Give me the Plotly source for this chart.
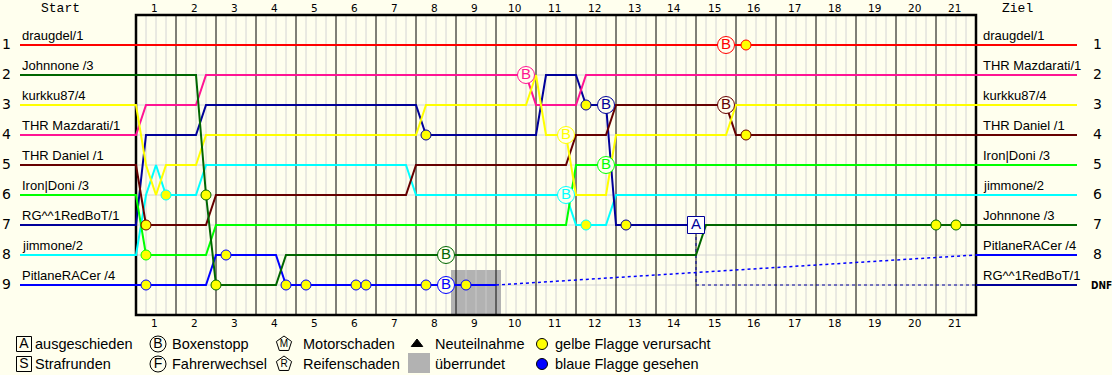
import plotly.graph_objects as go

# ---------------- data ----------------
n_laps = 21
quarters_per_lap = 4
lap_labels = [str(i) for i in range(1, n_laps + 1)]

drivers = ["draugdel/1", "Johnnone /3", "kurkku87/4", "THR Mazdarati/1", "THR Daniel /1",
           "Iron|Doni /3", "RG^^1RedBoT/1", "jimmone/2", "PitlaneRACer /4"]
colors = ["#FF0000", "#006600", "#FFFF00", "#FF1493", "#660000",
          "#00FF00", "#000099", "#00FFFF", "#0000FF"]

# position changes: (quarter-lap index, new position)
pos_draugdel = [(0, 1)]
pos_johnnone = [(0, 2), (7, 6), (8, 9), (15, 8), (57, 7)]
pos_kurkku = [(0, 3), (1, 5), (2, 6), (3, 5), (7, 4), (29, 3), (40, 2), (41, 4), (44, 6), (48, 4), (60, 3)]
pos_mazdarati = [(0, 4), (1, 3), (7, 2), (40, 3), (45, 2)]
pos_daniel = [(0, 5), (1, 7), (8, 6), (28, 5), (44, 4), (48, 3), (60, 4)]
pos_doni = [(0, 6), (1, 8), (8, 7), (44, 5)]
pos_redbot = [(0, 7), (1, 4), (7, 3), (29, 4), (41, 2), (45, 3), (48, 7)]
pos_jimmone = [(0, 8), (1, 6), (2, 5), (3, 6), (7, 5), (28, 6), (44, 7), (48, 6)]
pos_pitlane = [(0, 9), (8, 8), (15, 9)]
position_changes = [pos_draugdel, pos_johnnone, pos_kurkku, pos_mazdarati, pos_daniel,
                    pos_doni, pos_redbot, pos_jimmone, pos_pitlane]
last_quarter = [84, 84, 84, 84, 84, 84, 56, 84, 36]

final_order = ["draugdel/1", "THR Mazdarati/1", "kurkku87/4", "THR Daniel /1", "Iron|Doni /3",
               "jimmone/2", "Johnnone /3", "PitlaneRACer /4", "RG^^1RedBoT/1"]
final_status = ["1", "2", "3", "4", "5", "6", "7", "8", "DNF"]
retired_driver = "RG^^1RedBoT/1"
no_data_driver = "PitlaneRACer /4"

# yellow flags caused
flag_driver = ["THR Daniel /1", "Iron|Doni /3", "PitlaneRACer /4", "jimmone/2", "Johnnone /3",
               "Johnnone /3", "PitlaneRACer /4", "PitlaneRACer /4", "PitlaneRACer /4",
               "PitlaneRACer /4", "PitlaneRACer /4", "PitlaneRACer /4", "PitlaneRACer /4",
               "RG^^1RedBoT/1", "RG^^1RedBoT/1", "jimmone/2", "RG^^1RedBoT/1",
               "draugdel/1", "THR Daniel /1", "Johnnone /3", "Johnnone /3"]
flag_quarter = [1, 1, 1, 3, 7, 8, 9, 15, 17, 22, 23, 29, 33, 29, 45, 45, 49, 61, 61, 80, 82]

# pit stops
pit_driver = ["Johnnone /3", "PitlaneRACer /4", "THR Mazdarati/1", "kurkku87/4", "jimmone/2",
              "RG^^1RedBoT/1", "Iron|Doni /3", "draugdel/1", "THR Daniel /1"]
pit_quarter = [31, 31, 39, 43, 43, 47, 47, 59, 59]

# lapped (überrundet) interval, in laps
lapped_driver = "PitlaneRACer /4"
lapped_from = 7.875
lapped_to = 9.125

# ---------------- layout helpers ----------------
BG = "#FFFFEE"
GRID = "#D4D4D4"
W, H = 1112, 375


def X(px):
    return (px - 136) / 40.0


def Y(py):
    return (py - 15) / 30.0


def pos_at(changes, q):
    p = changes[0][1]
    for cq, cp in changes:
        if cq <= q:
            p = cp
    return p


fig = go.Figure()
shapes = []
ann = []

# sub-lap grid
for q in range(1, n_laps * quarters_per_lap):
    if q % quarters_per_lap:
        shapes.append(dict(type="line", xref="x", yref="y", x0=q / 4, x1=q / 4, y0=0, y1=10,
                           line=dict(color=GRID, width=1), layer="below"))
for p in range(1, len(drivers) + 1):
    shapes.append(dict(type="line", xref="x", yref="y", x0=0, x1=n_laps, y0=p, y1=p,
                       line=dict(color=GRID, width=1), layer="below"))

# lapped box
li = drivers.index(lapped_driver)
lrow = pos_at(position_changes[li], int(lapped_from * 4))
shapes.append(dict(type="rect", xref="x", yref="y", x0=lapped_from, x1=lapped_to, y0=lrow - 0.5, y1=10,
                   fillcolor="#B2B2B2", line=dict(width=0), layer="below"))
q = int(lapped_from * 4) + 1
while q / 4 < lapped_to:
    shapes.append(dict(type="line", xref="x", yref="y", x0=q / 4, x1=q / 4, y0=lrow - 0.5, y1=10,
                       line=dict(color="#C8C8C8", width=1), layer="below"))
    q += 1

# lap lines
for k in range(1, n_laps):
    shapes.append(dict(type="line", xref="x", yref="y", x0=k, x1=k, y0=0, y1=10,
                       line=dict(color="#000000", width=1), layer="below"))
shapes.append(dict(type="rect", xref="x", yref="y", x0=0, x1=n_laps, y0=0, y1=10,
                   line=dict(color="#000000", width=2.5), layer="below"))

x_start = X(20)
x_end = X(1077)
x_fin = n_laps

# dotted parts (no data / retired)
ri = drivers.index(retired_driver)
rq = last_quarter[ri]
rrow = len(drivers)
fig.add_trace(go.Scatter(x=[rq / 4, rq / 4, x_fin], y=[pos_at(position_changes[ri], rq), rrow, rrow],
                         mode="lines", line=dict(color=colors[ri], width=1, dash="dot"), hoverinfo="skip"))
ni = drivers.index(no_data_driver)
nq = last_quarter[ni]
nfinal = final_order.index(no_data_driver) + 1
fig.add_trace(go.Scatter(x=[nq / 4, x_fin], y=[pos_at(position_changes[ni], nq), nfinal],
                         mode="lines", line=dict(color=colors[ni], width=1.5, dash="dot"), hoverinfo="skip"))

# driver lines
for i in range(len(drivers) - 1, -1, -1):
    ch = position_changes[i]
    xs, ys = [x_start], [ch[0][1]]
    prev = None
    for cq, cp in ch:
        if prev is not None:
            xs.append((cq - 1) / 4)
            ys.append(prev)
        xs.append(cq / 4)
        ys.append(cp)
        prev = cp
    xs.append(last_quarter[i] / 4)
    ys.append(prev)
    fin = final_order.index(drivers[i]) + 1
    if last_quarter[i] == n_laps * quarters_per_lap:
        xs.append(x_end)
        ys.append(fin)
        fig.add_trace(go.Scatter(x=xs, y=ys, mode="lines", line=dict(color=colors[i], width=2),
                                 hoverinfo="skip"))
    else:
        fig.add_trace(go.Scatter(x=xs, y=ys, mode="lines", line=dict(color=colors[i], width=2),
                                 hoverinfo="skip"))
        fig.add_trace(go.Scatter(x=[x_fin, x_end], y=[fin, fin], mode="lines",
                                 line=dict(color=colors[i], width=2), hoverinfo="skip"))

# pit stop markers
for d, q in zip(pit_driver, pit_quarter):
    i = drivers.index(d)
    fig.add_trace(go.Scatter(x=[q / 4], y=[pos_at(position_changes[i], q)], mode="markers+text",
                             text=["B"], textposition="middle center",
                             textfont=dict(family="Liberation Sans", size=15, color=colors[i]),
                             marker=dict(symbol="circle", size=17, color=BG,
                                         line=dict(color=colors[i], width=1)),
                             hoverinfo="skip"))

# retirement marker
fig.add_trace(go.Scatter(x=[rq / 4], y=[pos_at(position_changes[ri], rq)], mode="markers+text",
                         text=["A"], textposition="middle center",
                         textfont=dict(family="Liberation Sans", size=15, color=colors[ri]),
                         marker=dict(symbol="square", size=17, color="#FFFFFF",
                                     line=dict(color=colors[ri], width=1)),
                         hoverinfo="skip"))

# yellow flags
for d, q in zip(flag_driver, flag_quarter):
    i = drivers.index(d)
    fig.add_trace(go.Scatter(x=[q / 4], y=[pos_at(position_changes[i], q)], mode="markers",
                             marker=dict(symbol="circle", size=10, color="#FFFF00",
                                         line=dict(color=colors[i], width=1)),
                             hoverinfo="skip"))

# ---------------- texts ----------------
NAME_FONT = dict(family="Liberation Sans", size=13, color="#000000")
NUM_FONT = dict(family="DejaVu Sans", size=14, color="#000000")
LAP_FONT = dict(family="DejaVu Sans", size=10.5, color="#000000")

for i, d in enumerate(drivers):
    sp = position_changes[i][0][1]
    ann.append(dict(x=x_start, y=sp - 0.33, text=d, xanchor="left", yanchor="middle",
                    showarrow=False, font=NAME_FONT))
for p in range(1, len(drivers) + 1):
    ann.append(dict(x=X(6), y=p - 0.03, text=str(p), xanchor="center", yanchor="middle",
                    showarrow=False, font=NUM_FONT))
for k, d in enumerate(final_order):
    ann.append(dict(x=X(981), y=k + 1 - 0.33, text=d, xanchor="left", yanchor="middle",
                    showarrow=False, font=NAME_FONT))
    st = final_status[k]
    if st == "DNF":
        ann.append(dict(x=X(1101), y=k + 1, text="<b>DNF</b>", xanchor="center", yanchor="middle",
                        showarrow=False, font=dict(family="DejaVu Sans Condensed", size=10, color="#000000")))
    else:
        ann.append(dict(x=X(1097), y=k + 1 - 0.03, text=st, xanchor="center", yanchor="middle",
                        showarrow=False, font=NUM_FONT))

for k, lab in enumerate(lap_labels):
    ann.append(dict(x=k + 0.5 - 0.04, y=Y(8), text=lab, xanchor="center", yanchor="middle",
                    showarrow=False, font=LAP_FONT))
    ann.append(dict(x=k + 0.5 - 0.04, y=Y(323), text=lab, xanchor="center", yanchor="middle",
                    showarrow=False, font=LAP_FONT))
ann.append(dict(x=X(60), y=Y(8), text="Start", xanchor="center", yanchor="middle", showarrow=False,
                font=dict(family="Liberation Mono", size=13, color="#000000")))
ann.append(dict(x=X(1017), y=Y(8), text="Ziel", xanchor="center", yanchor="middle", showarrow=False,
                font=dict(family="Liberation Mono", size=13, color="#000000")))

# ---------------- legend ----------------
LEG_FONT = dict(family="Liberation Sans", size=14.5, color="#000000")
r1, r2 = Y(344), Y(364)
leg_items = [
    (24, r1, "square", 15, BG, "A", "ausgeschieden", 33),
    (24, r2, "square", 15, BG, "S", "Strafrunden", 33),
    (158, r1, "circle", 16, BG, "B", "Boxenstopp", 170),
    (158, r2, "circle", 16, BG, "F", "Fahrerwechsel", 170),
    (284, r1, "pentagon", 16, BG, "M", "Motorschaden", 301),
    (284, r2, "pentagon", 16, BG, "R", "Reifenschaden", 301),
    (417, r1, "triangle-up", 10, "#000000", "", "Neuteilnahme", 433),
    (542, r1, "circle", 11, "#FFFF00", "", "gelbe Flagge verursacht", 553),
    (542, r2, "circle", 11, "#0000FF", "", "blaue Flagge gesehen", 553),
]
for cx, cy, sym, sz, fill, letter, label, tx in leg_items:
    fig.add_trace(go.Scatter(x=[X(cx)], y=[cy], mode="markers+text", text=[letter],
                             textposition="middle center",
                             textfont=dict(family="Liberation Sans", size=14 if sym != "pentagon" else 10,
                                           color="#000000"),
                             marker=dict(symbol=sym, size=sz, color=fill,
                                         line=dict(color="#000000", width=1)),
                             hoverinfo="skip"))
    ann.append(dict(x=X(tx), y=cy, text=label, xanchor="left", yanchor="middle", showarrow=False,
                    font=LEG_FONT))
shapes.append(dict(type="rect", xref="x", yref="y", x0=X(408), x1=X(430), y0=Y(353), y1=Y(373),
                   fillcolor="#B2B2B2", line=dict(width=0), layer="below"))
ann.append(dict(x=X(433), y=r2, text="überrundet", xanchor="left", yanchor="middle", showarrow=False,
                font=LEG_FONT))

fig.update_layout(
    width=W, height=H, margin=dict(l=0, r=0, t=0, b=0, pad=0),
    paper_bgcolor=BG, plot_bgcolor=BG, showlegend=False,
    xaxis=dict(range=[X(0), X(W)], visible=False, fixedrange=True),
    yaxis=dict(range=[Y(H), Y(0)], visible=False, fixedrange=True),
    shapes=shapes, annotations=ann,
)

fig.write_html("out.html", config=dict(displayModeBar=False),
               post_script="document.body.style.margin='0';document.body.style.overflow='hidden';")
